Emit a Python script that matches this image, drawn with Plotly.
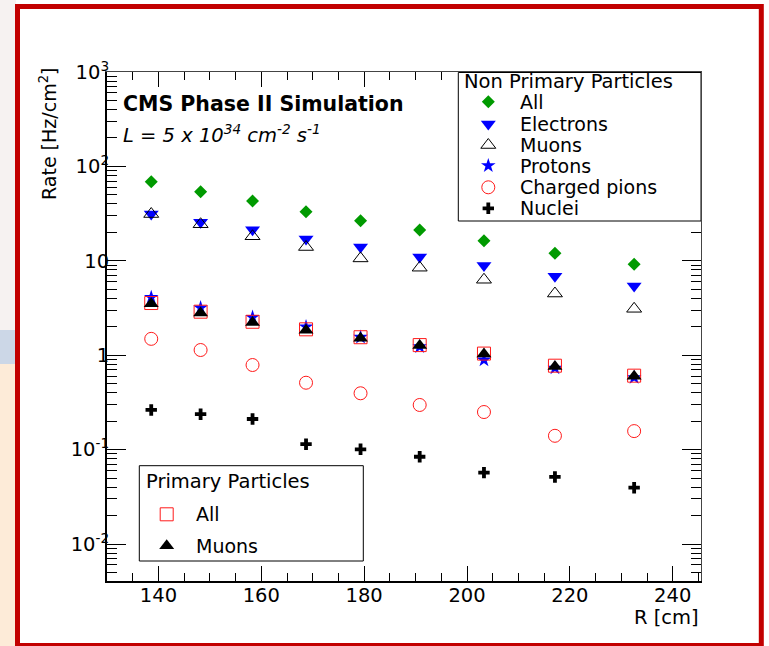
import plotly.graph_objects as go

# ---- data: hit rates vs. radius ----
R_CM = [138.6, 148.2, 158.3, 168.7, 179.3, 190.8, 203.3, 217.1, 232.5]

np_all = [68.9, 54.0, 43.0, 33.1, 26.6, 21.2, 16.3, 12.0, 9.2]
np_electrons = [31.3, 25.6, 21.3, 17.0, 14.0, 11.0, 8.9, 6.85, 5.4]
np_muons = [31.3, 24.4, 18.2, 14.0, 10.6, 8.45, 6.3, 4.5, 3.1]
np_protons = [4.1, 3.18, 2.52, 2.0, 1.55, 1.23, 0.89, 0.73, 0.58]
np_pions = [1.49, 1.135, 0.787, 0.511, 0.395, 0.297, 0.25, 0.14, 0.157]
np_nuclei = [0.263, 0.237, 0.211, 0.114, 0.1007, 0.084, 0.057, 0.0513, 0.0395]

pr_all = [3.57, 2.89, 2.26, 1.88, 1.55, 1.28, 1.04, 0.774, 0.607]
pr_muons = [3.5, 2.8, 2.22, 1.84, 1.51, 1.27, 1.03, 0.76, 0.6]

np_names = ["All", "Electrons", "Muons", "Protons", "Charged pions", "Nuclei"]
pr_names = ["All", "Muons"]

x_ticks = [140, 160, 180, 200, 220, 240]
y_ticks = [0.01, 0.1, 1, 10, 100, 1000]
y_ticktext = ["10<sup>-2</sup>", "10<sup>-1</sup>", "1", "10",
              "10<sup>2</sup>", "10<sup>3</sup>"]

# ---- figure geometry (pixels) ----
W, H = 769, 646
L, Rr, T, B = 107, 701, 72, 581
FONT = "DejaVu Sans"
X_RANGE = [130, 245.5]
Y_RANGE = [-2.392, 3.0]


def px(x):
    return (x - L) / (Rr - L)


def py(y):
    return (B - y) / (B - T)


# marker styles
GREEN = "#009a00"
BLUE = "#0000ff"
RED = "#ff1a1a"
styles = {
    "np_all": dict(symbol="diamond", size=10, color=GREEN, line=dict(width=0)),
    "np_el": dict(symbol="triangle-down", size=13, color=BLUE, line=dict(width=0)),
    "np_mu": dict(symbol="triangle-up-open", size=13, color="black", line=dict(width=1)),
    "np_p": dict(symbol="star", size=11, color=BLUE, line=dict(width=0)),
    "np_pi": dict(symbol="circle-open", size=13, color=RED, line=dict(width=1)),
    "np_nu": dict(symbol="cross", size=9.5, color="black", line=dict(width=0)),
    "pr_all": dict(symbol="square-open", size=13, color=RED, line=dict(width=1)),
    "pr_mu": dict(symbol="triangle-up", size=13, color="black", line=dict(width=0)),
}

fig = go.Figure()

series = [
    (np_all, "np_all"), (np_electrons, "np_el"), (np_protons, "np_p"),
    (np_muons, "np_mu"), (np_pions, "np_pi"), (np_nuclei, "np_nu"),
    (pr_all, "pr_all"), (pr_muons, "pr_mu"),
]
for vals, key in series:
    fig.add_trace(go.Scatter(x=R_CM, y=vals, mode="markers", marker=styles[key],
                             showlegend=False, hoverinfo="x+y"))

# empty trace carrying the mirrored top/right axes
fig.add_trace(go.Scatter(x=[], y=[], xaxis="x2", yaxis="y2", showlegend=False,
                         hoverinfo="skip"))

# ---- legend keys, placed on a pixel-space overlay ----
np_keys = ["np_all", "np_el", "np_mu", "np_p", "np_pi", "np_nu"]
np_rows = [101.7, 124.0, 145.0, 165.7, 187.3, 208.3]
pr_keys = ["pr_all", "pr_mu"]
pr_rows = [514.3, 545.7]
for key, yy in zip(np_keys, np_rows):
    fig.add_trace(go.Scatter(x=[488.3], y=[yy], xaxis="x3", yaxis="y3", mode="markers",
                             marker=styles[key], showlegend=False, hoverinfo="skip"))
for key, yy in zip(pr_keys, pr_rows):
    fig.add_trace(go.Scatter(x=[166.7], y=[yy], xaxis="x3", yaxis="y3", mode="markers",
                             marker=styles[key], showlegend=False, hoverinfo="skip"))

tickfont = dict(family=FONT, size=19.5, color="black")

# minor ticks
y_minor = [k * 10 ** e for e in range(-3, 3) for k in range(2, 10)]
y_minor = [v for v in y_minor if 10 ** Y_RANGE[0] <= v <= 10 ** Y_RANGE[1]]
x_minor = [v for v in range(130, 246, 5) if v not in x_ticks]

# ticks hidden under the upper legend box
x_top_lim = 196
y_right_lim = 25

fig.update_layout(
    width=W, height=H,
    margin=dict(l=L, r=W - Rr, t=T, b=H - B, pad=0),
    paper_bgcolor="white", plot_bgcolor="rgba(0,0,0,0)",
    showlegend=False,
    xaxis=dict(range=X_RANGE, showgrid=False, zeroline=False, showline=True,
               linecolor="black", linewidth=2, ticks="inside", ticklen=15,
               tickwidth=1, tickcolor="black", tickmode="array", tickvals=x_ticks,
               tickfont=tickfont, ticklabelstandoff=-4,
               minor=dict(ticks="inside", ticklen=8, tickcolor="black", tickwidth=1,
                          tickmode="array", tickvals=x_minor)),
    yaxis=dict(type="log", range=Y_RANGE, showgrid=False, zeroline=False, showline=True,
               linecolor="black", linewidth=2, ticks="inside", ticklen=19,
               tickwidth=1, tickcolor="black", tickmode="array", tickvals=y_ticks,
               ticktext=y_ticktext, tickfont=tickfont, ticklabelstandoff=-8,
               minor=dict(ticks="inside", ticklen=10, tickcolor="black", tickwidth=1,
                          tickmode="array", tickvals=y_minor)),
    xaxis2=dict(overlaying="x", side="top", range=X_RANGE, showgrid=False,
                zeroline=False, showline=True, linecolor="#444", linewidth=1,
                ticks="inside", ticklen=15, tickcolor="black", showticklabels=False,
                tickmode="array", tickvals=[v for v in x_ticks if v < x_top_lim],
                minor=dict(ticks="inside", ticklen=8, tickcolor="black",
                           tickmode="array",
                           tickvals=[v for v in x_minor if v < x_top_lim])),
    yaxis2=dict(overlaying="y", side="right", type="log", range=Y_RANGE, showgrid=False,
                zeroline=False, showline=True, linecolor="#444", linewidth=1,
                ticks="inside", ticklen=19, tickcolor="black", showticklabels=False,
                tickmode="array", tickvals=[v for v in y_ticks if v < y_right_lim],
                minor=dict(ticks="inside", ticklen=10, tickcolor="black",
                           tickmode="array",
                           tickvals=[v for v in y_minor if v < y_right_lim])),
    xaxis3=dict(overlaying="x", range=[L, Rr], visible=False),
    yaxis3=dict(overlaying="y", range=[B, T], visible=False),
)

shapes = []
# surrounding backdrop strips (left of the frame)
for y0, y1, col in [(0, 330, "#f6f2f1"), (364, 646, "#fdebd8")]:
    shapes.append(dict(type="rect", xref="paper", yref="paper", x0=px(0), x1=px(16),
                       y0=py(y1), y1=py(y0), fillcolor=col, line=dict(width=0),
                       layer="above"))
shapes.append(dict(type="rect", xref="paper", yref="paper", x0=px(0), x1=px(15),
                   y0=py(364), y1=py(330), fillcolor="#ccd7e7", line=dict(width=0),
                   layer="above"))
# red frame
shapes.append(dict(type="rect", xref="paper", yref="paper", x0=px(17.5), x1=px(761.3),
                   y0=py(645.5), y1=py(6.5), line=dict(color="#c20000", width=5),
                   fillcolor="rgba(0,0,0,0)", layer="above"))
# legend boxes
shapes.append(dict(type="rect", xref="paper", yref="paper", x0=px(458.3), x1=px(701),
                   y0=py(221), y1=py(72.5), fillcolor="white",
                   line=dict(color="black", width=1), layer="below"))
shapes.append(dict(type="rect", xref="paper", yref="paper", x0=px(139.3), x1=px(363.3),
                   y0=py(561), y1=py(465.7), fillcolor="white",
                   line=dict(color="black", width=1), layer="below"))

annotations = []


def text(x, y, s, size=19, xanchor="left", yanchor="middle", **kw):
    annotations.append(dict(xref="paper", yref="paper", x=px(x), y=py(y), text=s,
                            showarrow=False, xanchor=xanchor, yanchor=yanchor,
                            font=dict(family=FONT, size=size, color="black"), **kw))


text(121, 104, "<b>CMS Phase II Simulation</b>", size=20.5)
text(121, 134, "<i>L = 5 x 10<sup>34</sup> cm<sup>-2</sup> s<sup>-1</sup></i>", size=19.5)
text(462, 81, "Non Primary Particles", size=19.5)
for name, yy in zip(np_names, np_rows):
    text(518, yy, name)
text(144, 481.7, "Primary Particles", size=19.5)
for name, yy in zip(pr_names, pr_rows):
    text(194, yy, name)
text(701, 617, "R [cm]", xanchor="right", size=19.5)
text(48, 134, "Rate [Hz/cm<sup>2</sup>]", size=19, xanchor="center", textangle=-90)

fig.update_layout(shapes=shapes, annotations=annotations)
fig.write_html("out.html")
